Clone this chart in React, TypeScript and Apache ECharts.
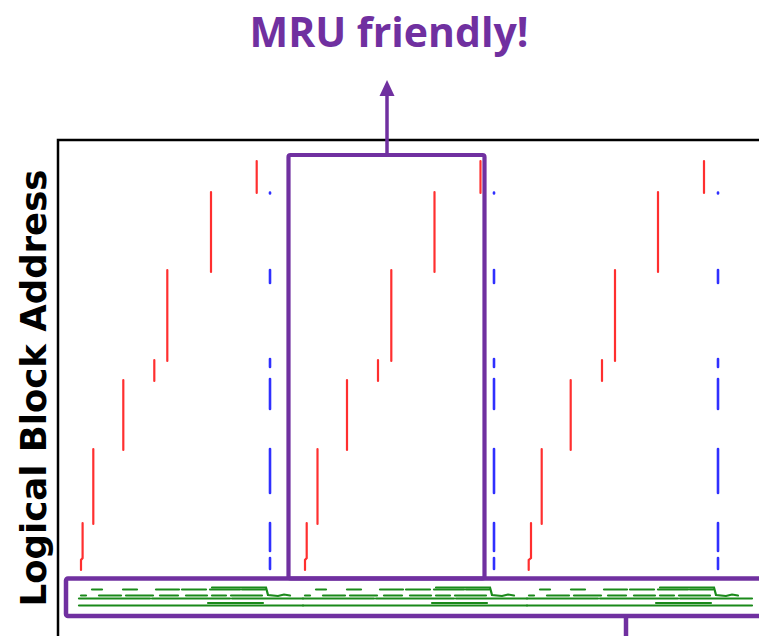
import React, { useEffect, useRef } from "react";
import * as echarts from "echarts";

// x: time (s), y: logical block address (x10^6)
const redSegments: number[][][] = [
  // period 1
  [[23, 9.0], [23, 10.0], [24.6, 10.2], [24.6, 13.7]],
  [[35.3, 13.6], [35.3, 21.1]],
  [[65.3, 21.0], [65.3, 28.0]],
  [[96.3, 27.9], [96.3, 30.0]],
  [[109.3, 29.9], [109.3, 39.0]],
  [[153, 38.8], [153, 46.8]],
  [[198.7, 46.7], [198.7, 49.9]],
  // period 2
  [[247, 9.0], [247, 10.0], [248.7, 10.2], [248.7, 13.7]],
  [[259.5, 13.6], [259.5, 21.1]],
  [[289, 21.0], [289, 28.0]],
  [[320, 27.9], [320, 30.0]],
  [[333.3, 29.9], [333.3, 39.0]],
  [[376.5, 38.8], [376.5, 46.8]],
  [[422.5, 46.7], [422.5, 49.9]],
  // period 3
  [[470.7, 9.0], [470.7, 10.0], [473, 10.2], [473, 13.7]],
  [[483.7, 13.6], [483.7, 21.1]],
  [[512.7, 21.0], [512.7, 28.0]],
  [[544, 27.9], [544, 30.0]],
  [[557, 29.9], [557, 39.0]],
  [[600, 38.8], [600, 46.8]],
  [[646, 46.7], [646, 49.9]],
];

const blueSegments: number[][][] = [
  // period 1
  [[212, 46.75], [212, 46.65]],
  [[212, 39.0], [212, 37.7]],
  [[212, 30.1], [212, 29.3]],
  [[212, 28.1], [212, 25.1]],
  [[212, 21.1], [212, 16.7]],
  [[212, 13.7], [212, 10.9]],
  [[212, 10.2], [212, 9.1]],
  // period 2
  [[436, 46.75], [436, 46.65]],
  [[436, 39.0], [436, 37.7]],
  [[436, 30.1], [436, 29.3]],
  [[436, 28.1], [436, 25.1]],
  [[436, 21.1], [436, 16.7]],
  [[436, 13.7], [436, 10.9]],
  [[436, 10.2], [436, 9.1]],
  // period 3
  [[660, 46.75], [660, 46.65]],
  [[660, 39.0], [660, 37.7]],
  [[660, 30.1], [660, 29.3]],
  [[660, 28.1], [660, 25.1]],
  [[660, 21.1], [660, 16.7]],
  [[660, 13.7], [660, 10.9]],
  [[660, 10.2], [660, 9.1]],
];

const greenSegments: number[][][] = [
  // period 1
  [[34, 7.05], [44, 7.05]], [[65, 7.05], [79, 7.05]], [[98, 7.05], [121, 7.05]],
  [[124, 7.05], [148, 7.05]], [[152, 7.05], [182, 7.05]], [[184, 7.05], [207, 7.05]],
  [[154, 7.25], [208, 7.25], [210, 6.5], [220, 6.4], [226, 6.55], [232, 6.45]],
  [[23, 6.45], [28, 6.45]], [[41, 6.45], [63, 6.45]], [[68, 6.45], [95, 6.45]],
  [[102, 6.45], [120, 6.45]], [[128, 6.45], [149, 6.45]], [[154, 6.45], [168, 6.45]],
  [[173, 6.45], [204, 6.45]],
  [[21, 6.15], [92, 6.15]], [[94, 6.15], [172, 6.15]], [[174, 6.15], [245, 6.15]],
  [[21, 5.45], [245, 5.45]],
  [[150, 5.7], [205, 5.7]],
  // period 2
  [[258, 7.05], [268, 7.05]], [[289, 7.05], [303, 7.05]], [[322, 7.05], [345, 7.05]],
  [[348, 7.05], [372, 7.05]], [[376, 7.05], [406, 7.05]], [[408, 7.05], [431, 7.05]],
  [[378, 7.25], [432, 7.25], [434, 6.5], [444, 6.4], [450, 6.55], [456, 6.45]],
  [[247, 6.45], [252, 6.45]], [[265, 6.45], [287, 6.45]], [[292, 6.45], [319, 6.45]],
  [[326, 6.45], [344, 6.45]], [[352, 6.45], [373, 6.45]], [[378, 6.45], [392, 6.45]],
  [[397, 6.45], [428, 6.45]],
  [[245, 6.15], [316, 6.15]], [[318, 6.15], [396, 6.15]], [[398, 6.15], [469, 6.15]],
  [[245, 5.45], [469, 5.45]],
  [[374, 5.7], [429, 5.7]],
  // period 3
  [[482, 7.05], [492, 7.05]], [[513, 7.05], [527, 7.05]], [[546, 7.05], [569, 7.05]],
  [[572, 7.05], [596, 7.05]], [[600, 7.05], [630, 7.05]], [[632, 7.05], [655, 7.05]],
  [[602, 7.25], [656, 7.25], [658, 6.5], [668, 6.4], [674, 6.55], [680, 6.45]],
  [[471, 6.45], [476, 6.45]], [[489, 6.45], [511, 6.45]], [[516, 6.45], [543, 6.45]],
  [[550, 6.45], [568, 6.45]], [[576, 6.45], [597, 6.45]], [[602, 6.45], [616, 6.45]],
  [[621, 6.45], [652, 6.45]],
  [[469, 6.15], [540, 6.15]], [[542, 6.15], [620, 6.15]], [[622, 6.15], [694, 6.15]],
  [[469, 5.45], [694, 5.45]],
  [[598, 5.7], [653, 5.7]],
];

const titleText = "MRU friendly!";
const yAxisTitle = "Logical Block Address";

const PURPLE = "#7030A0";

export default function App() {
  const ref = useRef<HTMLDivElement>(null);
  useEffect(() => {
    if (!ref.current) return;
    const chart = echarts.init(ref.current, undefined, { renderer: "svg" });
    const mk = (segs: number[][][], color: string, width: number) => ({
      type: "lines",
      coordinateSystem: "cartesian2d",
      polyline: true,
      silent: true,
      data: segs.map((c) => ({ coords: c })),
      lineStyle: { color, width, opacity: 1, cap: "round" },
      z: 2,
    });
    chart.setOption({
      animation: false,
      backgroundColor: "#ffffff",
      grid: {
        show: true,
        left: 58,
        top: 140,
        width: 720,
        height: 520,
        outerBoundsMode: "none",
        containLabel: false,
        borderColor: "#000000",
        borderWidth: 2.5,
        backgroundColor: "transparent",
      },
      xAxis: { type: "value", min: 0, max: 720, show: false },
      yAxis: { type: "value", min: 0, max: 52, show: false },
      series: [
        mk(greenSegments, "#1a8a1a", 2.2),
        mk(redSegments, "#ff2f2f", 2.2),
        mk(blueSegments, "#3030ff", 2.6),
      ],
      graphic: [
        {
          type: "text",
          x: 389,
          y: 31,
          z: 100,
          style: {
            text: titleText,
            fill: PURPLE,
            font: 'bold 41px "Open Sans"',
            align: "center",
            verticalAlign: "middle",
          },
        },
        {
          type: "text",
          x: 33,
          y: 388,
          rotation: Math.PI / 2,
          z: 100,
          style: {
            text: yAxisTitle,
            fill: "#000000",
            font: 'bold 35.5px "DejaVu Sans"',
            align: "center",
            verticalAlign: "middle",
          },
        },
        {
          type: "line",
          z: 100,
          shape: { x1: 387, y1: 155, x2: 387, y2: 94 },
          style: { stroke: PURPLE, lineWidth: 3.5 },
        },
        {
          type: "polygon",
          z: 100,
          shape: { points: [[387, 80], [379.5, 96], [394.5, 96]] },
          style: { fill: PURPLE },
        },
        {
          type: "rect",
          z: 100,
          shape: { x: 288.5, y: 155, width: 196, height: 423.5, r: 2 },
          style: { fill: "none", stroke: PURPLE, lineWidth: 4.2 },
        },
        {
          type: "rect",
          z: 100,
          shape: { x: 66, y: 578.5, width: 720, height: 37.5, r: 2 },
          style: { fill: "none", stroke: PURPLE, lineWidth: 4.5 },
        },
        {
          type: "line",
          z: 100,
          shape: { x1: 626, y1: 616, x2: 626, y2: 645 },
          style: { stroke: PURPLE, lineWidth: 4.5 },
        },
      ],
    });
    return () => chart.dispose();
  }, []);
  return (
    <div
      ref={ref}
      style={{ position: "fixed", left: 0, top: 0, width: 759, height: 636 }}
    />
  );
}
